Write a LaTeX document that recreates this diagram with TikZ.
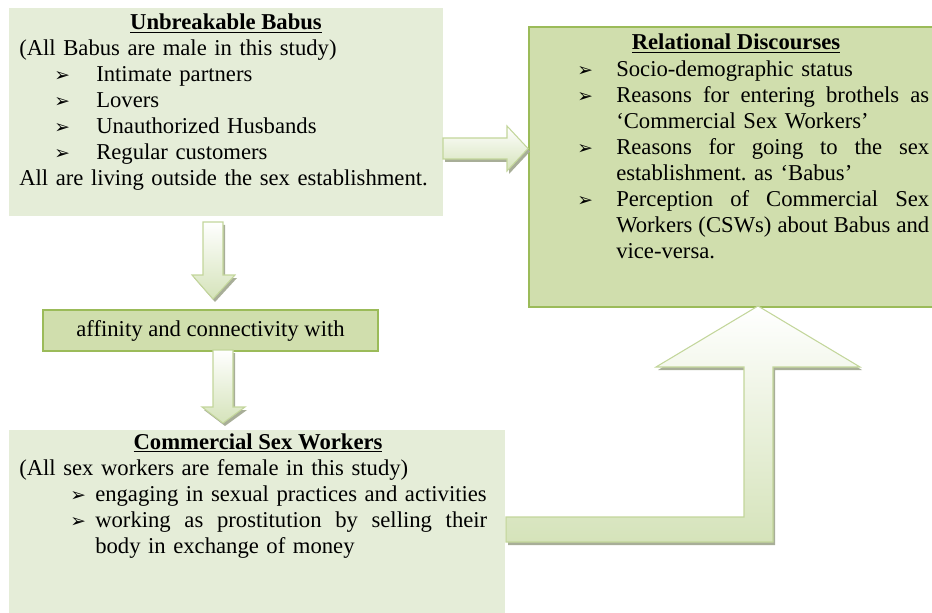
\documentclass[tikz,border=0pt]{standalone}
\usepackage{fontspec}
\setmainfont{Liberation Serif}
\newfontfamily\arrowfont{DejaVu Sans}
\usetikzlibrary{calc}
\frenchspacing

\newlength\px
\setlength\px{0.75pt}

\definecolor{boxlight}{RGB}{229,237,216}
\definecolor{boxmid}{RGB}{208,222,173}
\definecolor{boxline}{RGB}{155,187,89}
\definecolor{arrowline}{RGB}{195,214,155}
\definecolor{arrowfill}{RGB}{213,227,186}
\definecolor{arrowshade}{RGB}{168,174,152}

% arrowhead bullet, in a box of the given width (px)
\newcommand\bul[1]{\makebox[#1\px][l]{\arrowfont\fontsize{14}{14}\selectfont ➢}}
% a justified line, spread to the given width (px)
\newcommand\spread[2]{\makebox[#1\px][s]{\spaceskip=0pt\xspaceskip=0pt #2}}

\tikzset{
  lightbox/.style={fill=boxlight, draw=none, anchor=north west, inner sep=0pt},
  midbox/.style={fill=boxmid, draw=boxline, line width=1.5pt, anchor=north west, inner sep=0pt},
  txt/.style={inner sep=0pt, font=\fontsize{17}{19.5}\selectfont},
  blockarrow/.style={draw=arrowline, line width=.8pt, top color=white, bottom color=arrowfill,
    preaction={fill=arrowshade, draw=none, transform canvas={shift={(2,3)}}}},
}

\begin{document}
\begin{tikzpicture}[x=0.75pt,y=-0.75pt]
  \useasboundingbox (0,0) rectangle (932,613);
  % the four boxes (pixel coordinates, y downwards)
  \node[lightbox, minimum width=434\px, minimum height=208\px] (babus) at (9,8) {};
  \node[midbox, minimum width=410\px, minimum height=280\px] (discourses) at (528,26) {};
  \node[midbox, minimum width=335\px, minimum height=41\px] (affinity) at (42,309) {};
  \node[lightbox, minimum width=496\px, minimum height=190\px] (csw) at (9,430) {};

  % block arrows
  \draw[blockarrow] (203,222) -- (223,222) -- (223,275) -- (235,275) -- (213,299)
    -- (192,275) -- (203,275) -- cycle;
  \draw[blockarrow] (213,350) -- (233,350) -- (233,407) -- (245,407) -- (223,423)
    -- (202,407) -- (213,407) -- cycle;
  \draw[blockarrow] (443,138) -- (507,138) -- (507,126) -- (528,148.5) -- (507,171)
    -- (507,159) -- (443,159) -- cycle;
  % bent arrow from the sex workers up to the discourses
  \draw[blockarrow] (506,517) -- (744,517) -- (744,367) -- (656,367) -- (758,306)
    -- (860,367) -- (773,367) -- (773,542) -- (506,542) -- cycle;

  % texts
  \node[txt, anchor=base] (babustitle) at (226,30) {\underline{\textbf{Unbreakable Babus}}};
  \node[txt, anchor=base west, text width=420\px] (babuslist) at (19,56) {%
    (All Babus are male in this study)\\
    \hspace*{35\px}\bul{42}Intimate partners\\
    \hspace*{35\px}\bul{42}Lovers\\
    \hspace*{35\px}\bul{42}Unauthorized Husbands\\
    \hspace*{35\px}\bul{42}Regular customers\\
    All are living outside the sex establishment.};

  \node[txt, anchor=base] (discoursestitle) at (736,50) {\underline{\textbf{Relational Discourses}}};
  \node[txt, anchor=base west, text width=356\px] (discourseslist) at (577,77) {%
    \bul{39}Socio-demographic status\\
    \bul{39}\spread{313}{Reasons for entering brothels as}\\
    \hspace*{39\px}‘Commercial Sex Workers’\\
    \bul{39}\spread{313}{Reasons for going to the sex}\\
    \hspace*{39\px}establishment. as ‘Babus’\\
    \bul{39}\spread{313}{Perception of Commercial Sex}\\
    \hspace*{39\px}\spread{313}{Workers (CSWs) about Babus and}\\
    \hspace*{39\px}vice-versa.};

  \node[txt] (affinitytext) at (affinity.center) {affinity and connectivity with};

  \node[txt, anchor=base] (cswtitle) at (258,449) {\underline{\textbf{Commercial Sex Workers}}};
  \node[txt, anchor=base west, text width=480\px] (cswlist) at (19,475) {%
    (All sex workers are female in this study)\\
    \hspace*{51\px}\bul{25}engaging in sexual practices and activities\\
    \hspace*{51\px}\bul{25}\spread{392}{working as prostitution by selling their}\\
    \hspace*{76\px}body in exchange of money};
\end{tikzpicture}
\end{document}
